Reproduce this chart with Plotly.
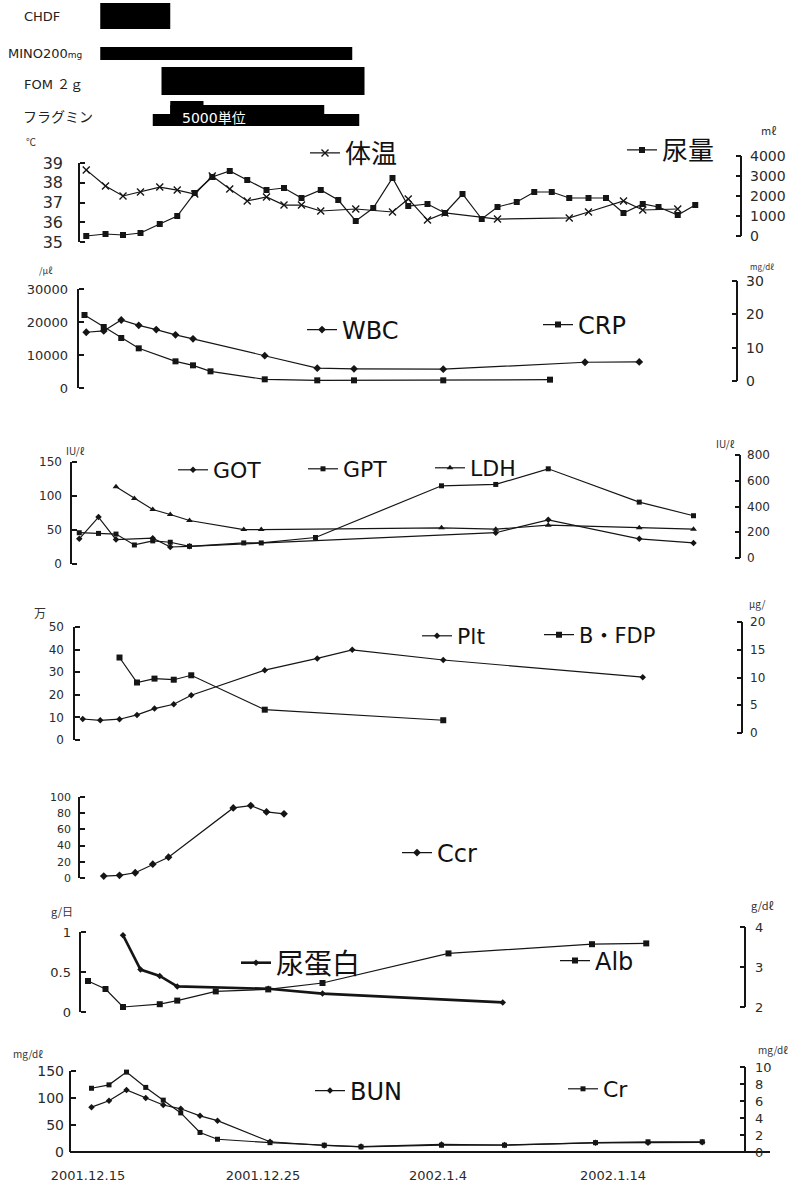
import plotly.graph_objects as go

W, H = 795, 1188
TICKFONT = "DejaVu Sans"
LEGFONT = "DejaVu Sans, Noto Sans CJK JP"
CJKFONT = "Noto Sans CJK JP"
INK = "#151515"

# ---------------- data ----------------
# x values are days counted from 2001.12.15
date_tickvals = [0, 10, 20, 30]
date_ticktext = ["2001.12.15", "2001.12.25", "2002.1.4", "2002.1.14"]

bar_names = ["CHDF", "MINO200mg", "FOM 2g", "フラグミン", "フラグミン", "フラグミン"]
bar_start = [0.7, 0.7, 4.2, 3.7, 4.7, 4.7]
bar_end = [4.7, 15.1, 15.8, 15.5, 13.5, 6.6]

temp_day = [-0.1, 1.0, 2.0, 3.0, 4.1, 5.1, 6.1, 7.1, 8.1, 9.1, 10.2, 11.2, 12.2, 13.3,
            15.3, 17.4, 18.3, 19.4, 20.4, 23.4, 27.5, 28.6, 30.6, 31.7, 33.7]
temp = [38.65, 37.84, 37.33, 37.53, 37.78, 37.63, 37.43, 38.34, 37.68, 37.08, 37.28, 36.87,
        36.87, 36.57, 36.67, 36.52, 37.18, 36.11, 36.47, 36.16, 36.22, 36.52, 37.08, 36.62, 36.67]

urine_day = [-0.1, 1.0, 2.0, 3.0, 4.1, 5.1, 6.1, 7.1, 8.1, 9.1, 10.2, 11.2, 12.2, 13.3, 14.3,
             15.3, 16.3, 17.4, 18.3, 19.4, 20.4, 21.4, 22.5, 23.4, 24.5, 25.5, 26.5, 27.5,
             28.6, 29.6, 30.6, 31.7, 32.6, 33.7, 34.7]
urine = [0, 100, 50, 150, 600, 1000, 2150, 2950, 3250, 2800, 2300, 2400, 1900, 2300, 1800,
         750, 1400, 2900, 1500, 1600, 1150, 2100, 850, 1450, 1700, 2200, 2200, 1900,
         1900, 1900, 1150, 1600, 1450, 1050, 1550]

wbc_day = [-0.1, 0.9, 1.9, 2.9, 3.9, 5.0, 6.0, 10.1, 13.1, 15.2, 20.3, 28.4, 31.5]
wbc = [16900, 17300, 20600, 19000, 17700, 16100, 14900, 9800, 6000, 5800, 5700, 7800, 7900]

crp_day = [-0.2, 0.9, 1.9, 2.9, 5.0, 6.0, 7.0, 10.1, 13.1, 15.2, 20.3, 26.4]
crp = [19.8, 16.2, 12.9, 9.8, 5.9, 4.7, 2.9, 0.5, 0.2, 0.2, 0.2, 0.4]

got_day = [-0.5, 0.6, 1.6, 3.7, 4.7, 5.8, 23.3, 26.3, 31.5, 34.6]
got = [37, 69, 36, 38, 25, 26, 46, 65, 37, 31]

gpt_day = [-0.5, 0.6, 1.6, 2.65, 3.7, 4.7, 5.8, 8.9, 9.9, 13.0, 20.2, 23.3, 26.3, 31.5, 34.6]
gpt = [46, 45, 44, 28, 34, 32, 26, 31, 31, 39, 115, 117, 140, 91, 71]

ldh_day = [1.6, 2.65, 3.7, 4.7, 5.8, 8.9, 9.9, 20.2, 23.3, 26.3, 31.5, 34.6]
ldh = [553, 463, 377, 338, 291, 221, 221, 234, 224, 255, 234, 224]

plt_day = [-0.3, 0.7, 1.8, 2.8, 3.8, 4.9, 5.9, 10.1, 13.1, 15.1, 20.3, 31.7]
plt_val = [9.3, 8.7, 9.2, 11.1, 13.9, 15.8, 19.8, 30.9, 36.1, 39.9, 35.4, 27.8]

fdp_day = [1.8, 2.8, 3.8, 4.9, 5.9, 10.1, 20.3]
fdp = [13.6, 9.1, 9.8, 9.6, 10.4, 4.2, 2.3]

ccr_day = [0.9, 1.8, 2.7, 3.7, 4.6, 8.3, 9.3, 10.2, 11.2]
ccr = [2.4, 3.3, 6.5, 17.1, 25.7, 86.5, 89.4, 81.6, 79.2]

uprot_day = [2.0, 3.0, 4.1, 5.1, 10.3, 13.4, 23.7]
uprot = [0.96, 0.53, 0.45, 0.32, 0.29, 0.23, 0.12]

alb_day = [0.0, 1.0, 2.0, 4.1, 5.1, 7.3, 10.3, 13.4, 20.6, 28.8, 31.9]
alb = [2.65, 2.45, 2.0, 2.07, 2.16, 2.39, 2.44, 2.6, 3.34, 3.57, 3.59]

bun_day = [0.2, 1.2, 2.2, 3.3, 4.3, 5.3, 6.4, 7.4, 10.4, 13.5, 15.6, 20.2, 23.8, 29.0, 32.0, 35.1]
bun = [83, 95, 115, 100, 87, 80, 67, 58, 19, 12, 10, 14, 13, 17, 17, 18]
cr = [7.5, 7.9, 9.4, 7.6, 6.1, 4.6, 2.3, 1.5, 1.1, 0.8, 0.6, 0.8, 0.8, 1.1, 1.2, 1.2]

# ---------------- style / layout helpers ----------------
bar_row_center = [16, 53.5, 81, 120, 109.5, 107.5]
bar_thickness = [26, 13, 28, 12, 9, 13]

X_LEFT_PX, X_RIGHT_PX, DAY0_PX, PX_PER_DAY = 70, 770, 88, 17.5

fig = go.Figure()
shapes = []
annotations = []
layout_axes = {}


def yaxis(n, lo, hi, p_lo, p_hi, xpx, side, dtick, fsize, standoff, fmt=None, pad=10):
    k = (p_lo - p_hi) / (hi - lo)
    rng = [lo - pad / k, hi + pad / k]
    dom = [1 - (p_lo + pad) / H, 1 - (p_hi - pad) / H]
    d = dict(domain=dom, range=rng, anchor="free", position=xpx / W, side=side,
             showline=False, showgrid=False, zeroline=False, automargin=False,
             ticks="inside", ticklen=5, tickwidth=1.5, tickcolor=INK,
             tickmode="linear", tick0=lo, dtick=dtick,
             tickfont=dict(family=TICKFONT, size=fsize, color="#2a2a2a"),
             ticklabelstandoff=standoff, fixedrange=True)
    if fmt:
        d["tickformat"] = fmt
    key = "yaxis" if n == 1 else f"yaxis{n}"
    layout_axes[key] = d
    shapes.append(dict(type="line", xref="paper", yref=f"y{n}", x0=xpx / W, x1=xpx / W,
                       y0=lo, y1=hi, line=dict(color=INK, width=2)))


legend_layouts = {}


def series(x, y, n, name, legend_id, symbol, msize, lpos, lw=1.2, mline=0):
    fig.add_trace(go.Scatter(
        x=x, y=y, xaxis="x", yaxis=f"y{n}", mode="lines+markers", name=name,
        line=dict(color=INK, width=lw),
        marker=dict(symbol=symbol, size=msize, color=INK, line=dict(width=mline, color=INK)),
        legend=legend_id, showlegend=True, cliponaxis=False))
    px, py, fs = lpos
    legend_layouts[legend_id] = dict(
        x=(px - 5) / W, y=1 - py / H, xanchor="left", yanchor="middle",
        bgcolor="rgba(0,0,0,0)", borderwidth=0, itemwidth=30,
        font=dict(family=LEGFONT, size=fs, color="#111"))


# ---------- treatment bars ----------
layout_axes["yaxis"] = dict(domain=[1 - 130 / H, 1], range=[130, 0], visible=False,
                            fixedrange=True, automargin=False)
fig.add_trace(go.Bar(
    y=bar_row_center, x=[e - s for s, e in zip(bar_start, bar_end)], base=bar_start,
    width=bar_thickness, orientation="h", xaxis="x", yaxis="y",
    marker=dict(color="#000000", line=dict(width=0)), showlegend=False,
    hovertext=bar_names))

bar_labels = [("CHDF", 22, 16, 13), ("MINO200<span style='font-size:9px'>mg</span>", 6, 53, 13),
              ("FOM ２ｇ", 22, 84, 13), ("フラグミン", 21, 117, 14)]
for t, xp, yp, fs in bar_labels:
    annotations.append(dict(text=t, x=xp / W, y=1 - yp / H, xref="paper", yref="paper",
                            xanchor="left", yanchor="middle", showarrow=False,
                            font=dict(family=LEGFONT, size=fs, color="#222")))
annotations.append(dict(text="5000単位", x=180 / W, y=1 - 118 / H, xref="paper", yref="paper",
                        xanchor="left", yanchor="middle", showarrow=False,
                        font=dict(family=LEGFONT, size=14, color="#ffffff")))

# ---------- axes ----------
yaxis(2, 35, 39, 242, 163, 79, "left", 1, 16, 16)
yaxis(3, 0, 4000, 236, 156, 741, "right", 1000, 14, 8, fmt="d")
yaxis(4, 0, 30000, 388, 289, 78, "left", 10000, 13, 10, fmt="d")
yaxis(5, 0, 30, 381, 281, 737, "right", 10, 14, 8)
yaxis(6, 0, 150, 564, 462, 71, "left", 50, 12, 9)
yaxis(7, 0, 800, 558, 455, 740, "right", 200, 12, 6)
yaxis(8, 0, 50, 740, 627, 74, "left", 10, 12, 10)
yaxis(9, 0, 20, 733, 622, 742, "right", 5, 12, 7)
yaxis(10, 0, 100, 878, 797, 79, "left", 20, 11, 8)
yaxis(11, 0, 1, 1012, 932, 80, "left", 0.5, 13, 9)
yaxis(12, 2, 4, 1007, 927, 745, "right", 1, 13, 9)
yaxis(13, 0, 150, 1152, 1071, 70, "left", 50, 14, 6)
yaxis(14, 0, 10, 1152, 1067, 745, "right", 2, 13, 9)

# ---------- series ----------
series(temp_day, temp, 2, "体温", "legend", "x-thin", 7, (310, 153, 26), mline=1.4)
series(urine_day, urine, 3, "尿量", "legend2", "square", 6, (627, 150, 26))
series(wbc_day, wbc, 4, "WBC", "legend3", "diamond", 6, (307, 330, 24))
series(crp_day, crp, 5, "CRP", "legend4", "square", 6, (543, 325, 24))
series(got_day, got, 6, "GOT", "legend5", "diamond", 5, (178, 470, 22))
series(gpt_day, gpt, 6, "GPT", "legend6", "square", 5, (308, 469, 22))
series(ldh_day, ldh, 7, "LDH", "legend7", "triangle-up", 6, (435, 468, 22))
series(plt_day, plt_val, 8, "Plt", "legend8", "diamond", 5, (422, 636, 22))
series(fdp_day, fdp, 9, "B・FDP", "legend9", "square", 6, (544, 635, 21))
series(ccr_day, ccr, 10, "Ccr", "legend10", "diamond", 6, (402, 853, 24))
series(uprot_day, uprot, 11, "尿蛋白", "legend11", "diamond", 5, (241, 963, 28), lw=2.6)
series(alb_day, alb, 12, "Alb", "legend12", "square", 6, (560, 961, 24))
series(bun_day, bun, 13, "BUN", "legend13", "diamond", 5, (315, 1091, 24))
series(bun_day, cr, 14, "Cr", "legend14", "square", 5, (568, 1089, 22))

# ---------- unit labels ----------
units = [("℃", 31, 141, 10), ("mℓ", 768, 130, 11), ("/μℓ", 46, 270, 9), ("mg/dℓ", 762, 266, 8),
         ("IU/ℓ", 75, 450, 10), ("IU/ℓ", 725, 444, 10), ("万", 40, 612, 12), ("μg/", 757, 603, 10),
         ("g/日", 62, 911, 11), ("g/dℓ", 762, 905, 11), ("mg/dℓ", 28, 1053, 10), ("mg/dℓ", 773, 1049, 10)]
for t, xp, yp, fs in units:
    annotations.append(dict(text=t, x=xp / W, y=1 - yp / H, xref="paper", yref="paper",
                            xanchor="center", yanchor="middle", showarrow=False,
                            font=dict(family=CJKFONT, size=fs, color="#333")))

x_lo = (X_LEFT_PX - DAY0_PX) / PX_PER_DAY
x_hi = (X_RIGHT_PX - DAY0_PX) / PX_PER_DAY
layout_axes["xaxis"] = dict(domain=[X_LEFT_PX / W, X_RIGHT_PX / W], range=[x_lo, x_hi],
                            anchor="free", position=1 - 1152 / H, automargin=False,
                            showline=True, linecolor=INK, linewidth=1.5, showgrid=False, zeroline=False,
                            tickmode="array", tickvals=date_tickvals, ticktext=date_ticktext,
                            ticks="", tickfont=dict(family=TICKFONT, size=13, color="#2a2a2a"),
                            ticklabelstandoff=12, fixedrange=True)

fig.update_layout(
    template="none",
    width=W, height=H, margin=dict(l=0, r=0, t=0, b=0, autoexpand=False),
    paper_bgcolor="white", plot_bgcolor="rgba(0,0,0,0)",
    shapes=shapes, annotations=annotations, barmode="overlay",
    **layout_axes, **legend_layouts)

fig.write_html("out.html", config={"displayModeBar": False},
               post_script="document.body.style.margin='0';")
